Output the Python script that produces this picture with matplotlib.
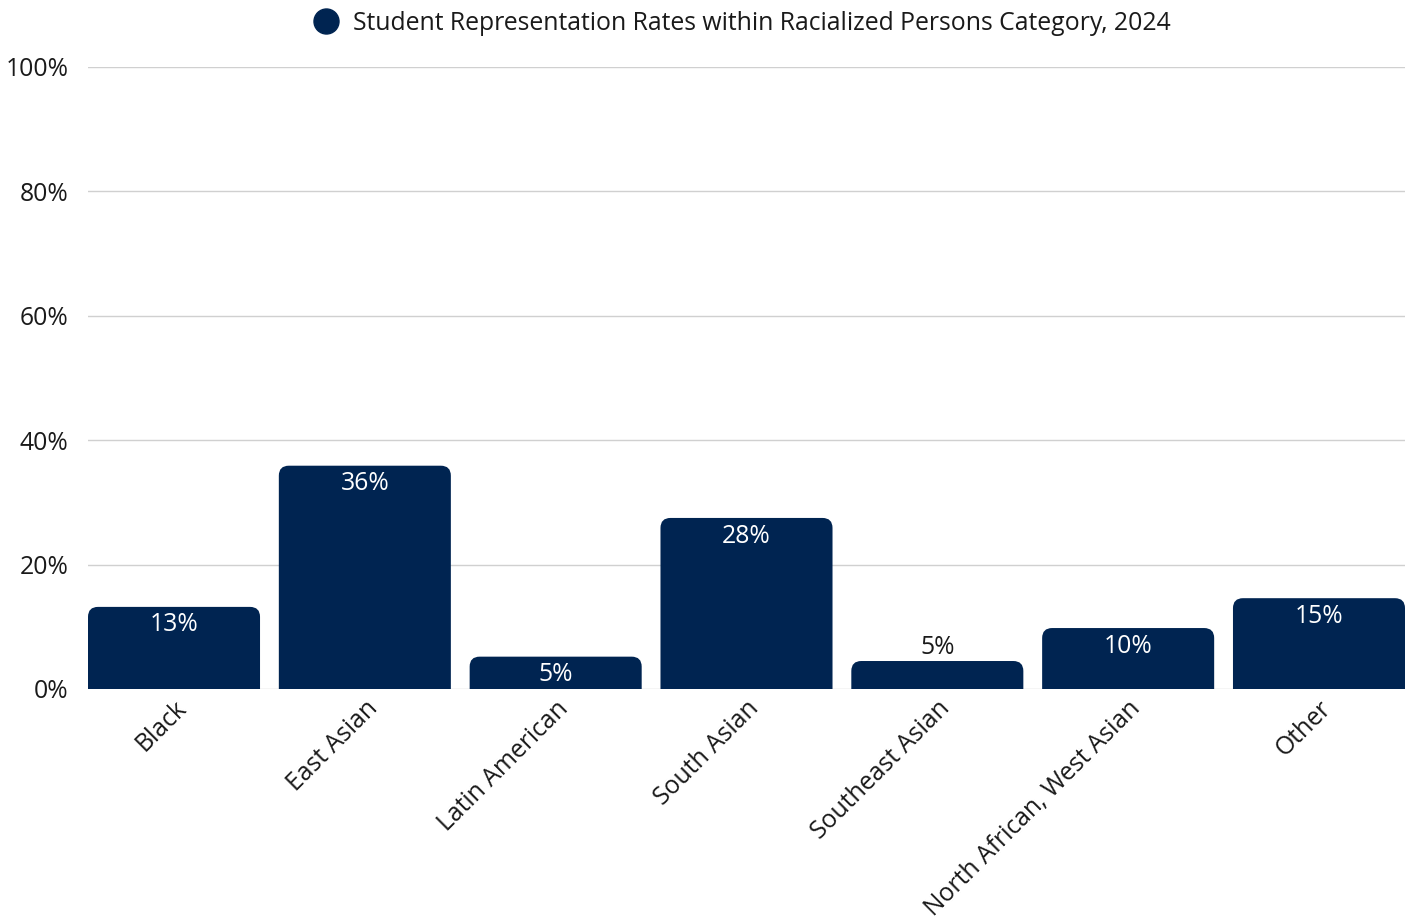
import matplotlib.pyplot as plt
from matplotlib import font_manager
from matplotlib.path import Path
from matplotlib.patches import PathPatch
from matplotlib.lines import Line2D

categories = ['Black', 'East Asian', 'Latin American', 'South Asian',
              'Southeast Asian', 'North African, West Asian', 'Other']
rates = [13.2, 35.9, 5.2, 27.5, 4.5, 9.8, 14.6]
labels = ['13%', '36%', '5%', '28%', '5%', '10%', '15%']
y_ticks = [0, 20, 40, 60, 80, 100]

NAVY = '#002451'
TEXT = '#1a1a1a'
FS = 17.8

# drop the variable Open Sans files so the static Regular face gets used
font_manager.fontManager.ttflist = [
    f for f in font_manager.fontManager.ttflist if '[' not in f.fname]
plt.rcParams['font.family'] = ['Open Sans', 'DejaVu Sans']

fig = plt.figure(figsize=(14.1, 9.24), dpi=100)
ax = fig.add_axes([88 / 1410, 1 - 689 / 924, (1405 - 88) / 1410, (689 - 67) / 924])

bar_w = 0.9015
ax.set_xlim(-bar_w / 2, len(categories) - 1 + bar_w / 2)
ax.set_ylim(0, 100)


def rounded_bar(ax, x, h, w, r_px=10):
    # round only the top corners, radius given in pixels
    bbox = ax.get_window_extent()
    x0, x1 = ax.get_xlim()
    y0, y1 = ax.get_ylim()
    rx = r_px * (x1 - x0) / bbox.width
    ry = min(r_px * (y1 - y0) / bbox.height, h / 2)
    l, rgt = x - w / 2, x + w / 2
    verts = [(l, 0), (l, h - ry), (l, h), (l + rx, h),
             (rgt - rx, h), (rgt, h), (rgt, h - ry), (rgt, 0), (l, 0)]
    codes = [Path.MOVETO, Path.LINETO, Path.CURVE3, Path.CURVE3,
             Path.LINETO, Path.CURVE3, Path.CURVE3, Path.LINETO, Path.CLOSEPOLY]
    ax.add_patch(PathPatch(Path(verts, codes), facecolor=NAVY, edgecolor='none', zorder=3))


for i, (v, lab) in enumerate(zip(rates, labels)):
    rounded_bar(ax, i, v, bar_w)
    if v >= 5:
        ax.annotate(lab, (i, v), xytext=(0, -4), textcoords='offset points',
                    ha='center', va='top', color='white', fontsize=FS, zorder=4)
    else:
        ax.annotate(lab, (i, v), xytext=(0, 1), textcoords='offset points',
                    ha='center', va='bottom', color=TEXT, fontsize=FS, zorder=4)

ax.set_yticks(y_ticks)
ax.set_yticklabels([f'{t}%' for t in y_ticks], fontsize=FS, color=TEXT)
ax.set_xticks(range(len(categories)))
ax.set_xticklabels(categories, rotation=45, ha='right', rotation_mode='anchor',
                   fontsize=FS, color=TEXT)
ax.tick_params(axis='both', length=0)
ax.tick_params(axis='y', pad=14)
ax.tick_params(axis='x', pad=5)
for s in ax.spines.values():
    s.set_visible(False)
ax.grid(axis='y', color='#d0d0d0', linewidth=1)
ax.set_axisbelow(True)

handle = Line2D([], [], marker='o', linestyle='none', markersize=18,
                markerfacecolor=NAVY, markeredgecolor=NAVY)
fig.legend([handle], ['Student Representation Rates within Racialized Persons Category, 2024'],
           loc='center', bbox_to_anchor=(736 / 1410, 1 - 23 / 924), frameon=False,
           fontsize=FS, handletextpad=0.1, labelcolor=TEXT)

fig.savefig('out.png', dpi=100)
